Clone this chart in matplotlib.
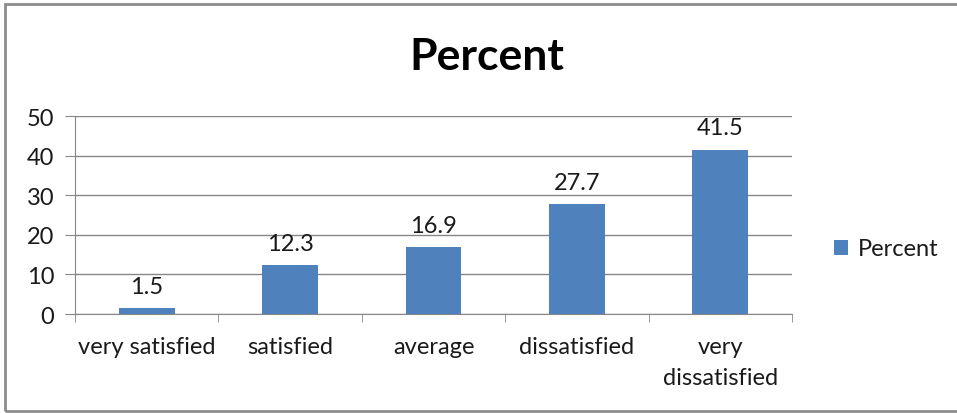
import matplotlib.pyplot as plt
from matplotlib.patches import Rectangle
import numpy as np

categories = ["very satisfied", "satisfied", "average", "dissatisfied", "very\ndissatisfied"]
percent = [1.5, 12.3, 16.9, 27.7, 41.5]
yticks = [0, 10, 20, 30, 40, 50]

plt.rcParams['font.family'] = ['Lato', 'DejaVu Sans']
bar_color = "#4F81BD"
grid_color = "#868686"
text_color = "#1a1a1a"
fs = 17

fig = plt.figure(figsize=(9.57, 4.14), dpi=100)
ax = fig.add_axes([75 / 957, 1 - 315 / 414, (792 - 75) / 957, (315 - 117) / 414])

x = np.arange(len(categories))
bars = ax.bar(x, percent, width=0.39, color=bar_color, label="Percent", zorder=3)

for b, v in zip(bars, percent):
    ax.text(b.get_x() + b.get_width() / 2, v + 2.9, str(v), ha="center", va="bottom",
            fontsize=fs, color=text_color)

ax.set_xlim(-0.5, len(categories) - 0.5)
ax.set_ylim(0, 50)
ax.set_yticks(yticks)
ax.set_yticklabels([str(t) for t in yticks], fontsize=fs, color=text_color)
ax.yaxis.grid(True, color=grid_color, linewidth=1, zorder=0)
ax.tick_params(axis="y", length=7, color=grid_color, pad=8)

# category labels, with tick marks at the boundaries between categories
ax.set_xticks(x)
ax.set_xticklabels(categories, fontsize=fs, color=text_color, linespacing=1.55)
ax.tick_params(axis="x", length=0, pad=16)
ax.set_xticks(np.arange(len(categories) + 1) - 0.5, minor=True)
ax.tick_params(axis="x", which="minor", length=6, color=grid_color)

for s in ["top", "right"]:
    ax.spines[s].set_visible(False)
ax.spines["left"].set_color(grid_color)
ax.spines["bottom"].set_color(grid_color)

fig.text(487 / 957, 1 - 57 / 414, "Percent", ha="center", va="center",
         fontsize=32, fontweight="bold", color="black")

fig.legend(handles=[bars], labels=["Percent"], loc="center left",
           bbox_to_anchor=(813 / 957, 1 - 250 / 414), frameon=False,
           fontsize=fs, handlelength=0.6, handleheight=0.6, handletextpad=0.4,
           labelcolor=text_color)

# chart border, running off the right edge
fig.patches.append(Rectangle((5 / 957, 2 / 414), 960 / 957, 407 / 414,
                             transform=fig.transFigure, fill=False,
                             edgecolor="#8c8c8c", linewidth=2))

fig.savefig("out.png", dpi=100)
